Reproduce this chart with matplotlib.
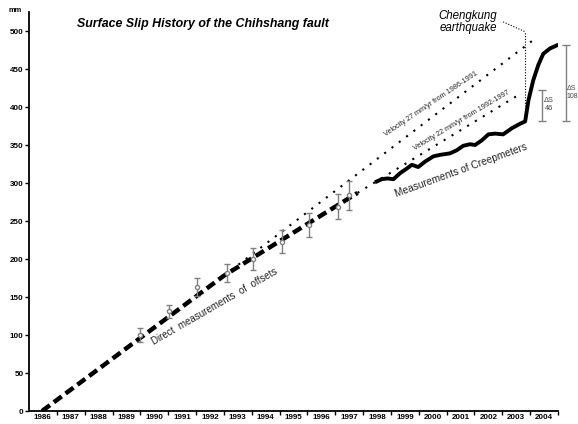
import matplotlib
matplotlib.use("Agg")
import matplotlib.pyplot as plt
import numpy as np

plt.rcParams["font.family"] = ["Liberation Sans", "DejaVu Sans"]

# -------------------------
# Data
# -------------------------
years = list(range(1986, 2005))

# direct measurements of offsets (dashed trend)
direct_years = [1986.47, 1993.0, 1997.8]
direct_mm = [0, 178, 287]

# offsets with error bars
offset_years = [1990.0, 1991.04, 1992.02, 1993.12, 1994.06, 1995.08, 1996.04, 1997.1, 1997.5]
offset_mm = [100, 131, 163, 182, 200, 223, 245, 269, 284]
offset_err = [9, 8, 12, 12, 14, 15, 16, 17, 19]

# velocity extrapolations
vel27_years = [1993.0, 2004.25]
vel27_mm = [178, 492]
vel22_years = [1997.8, 2003.5]
vel22_mm = [287, 414]

# creepmeters
creep_years = [1998.49, 1998.67, 1998.87, 1999.09, 1999.33, 1999.57, 1999.75,
               1999.98, 2000.22, 2000.52, 2000.76, 2001.12, 2001.36, 2001.6,
               2001.84, 2002.02, 2002.26, 2002.5, 2002.74, 2003.03, 2003.34,
               2003.64, 2003.82, 2003.94, 2004.11, 2004.29, 2004.47, 2004.71,
               2004.95]
creep_mm = [302, 305, 306, 305, 313, 319, 324, 321, 328, 335, 337, 339, 343,
            349, 351, 350, 356, 364, 365, 364, 372, 378, 381, 409, 435, 455,
            470, 477, 481]

# Chengkung earthquake marker
quake_year = 2003.82
quake_mm = [383, 499]
leader_years = [2003.03, 2003.82]
leader_mm = [512, 499]

# coseismic slip bars
ds46_mm = [382, 422]
ds108_mm = [382, 482]

fig = plt.figure(figsize=(5.78, 4.24), dpi=100)
ax = fig.add_axes([29 / 578, 1 - 411 / 424, 529 / 578, 399 / 424])

gray = "#808080"

# dotted extrapolations
ax.plot(vel27_years, vel27_mm, color="black", lw=1.5, linestyle=(0, (1, 3.4)))
ax.plot(vel22_years, vel22_mm, color="black", lw=1.5, linestyle=(0, (1, 3.4)))

# direct measurements
ax.plot(direct_years, direct_mm, color="black", lw=3.2, dashes=(2.2, 1.1),
        zorder=3)
ax.errorbar(offset_years, offset_mm, yerr=offset_err, fmt="o", ms=3,
            mfc="white", mec=gray, ecolor=gray, elinewidth=1, capsize=2.2,
            capthick=1, zorder=4)

# creepmeters
ax.plot(creep_years, creep_mm, color="black", lw=2.8, solid_joinstyle="round",
        zorder=3)

# Chengkung leader lines
ax.plot([quake_year, quake_year], quake_mm, color="black", lw=0.8,
        linestyle=(0, (1, 1.5)))
ax.plot(leader_years, leader_mm, color="black", lw=0.8, linestyle=(0, (1, 1.5)))
ax.text(2001.77, 512, "Chengkung\nearthquake", fontsize=8.3, style="italic",
        ha="center", va="center", linespacing=1.0)

# delta S bars
ax.errorbar([2004.43], [np.mean(ds46_mm)], yerr=[(ds46_mm[1] - ds46_mm[0]) / 2],
            fmt="none", ecolor=gray, elinewidth=1, capsize=3, capthick=1)
ax.errorbar([2005.29], [np.mean(ds108_mm)], yerr=[(ds108_mm[1] - ds108_mm[0]) / 2],
            fmt="none", ecolor=gray, elinewidth=1, capsize=3, capthick=1,
            clip_on=False)
ax.text(2004.66, 403, "\u0394S\n46", fontsize=5.3, color="#444444",
        ha="center", va="center", linespacing=1.1)
ax.text(2005.5, 419, "\u0394S\n108", fontsize=5.0, color="#444444",
        ha="center", va="center", linespacing=1.1, clip_on=False)

# labels along the lines
ax.text(1992.65, 138, "Direct  measurements  of  offsets", fontsize=7.0,
        rotation=30, ha="center", va="center", color="#222222")
ax.text(2001.52, 316, "Measurements of Creepmeters", fontsize=7.3,
        rotation=20, ha="center", va="center", color="#222222")
ax.text(2000.44, 404, "Velocity 27 mm/yr from 1986-1991", fontsize=5.2,
        rotation=34, ha="center", va="center", color="#222222")
ax.text(2001.55, 382, "Velocity 22 mm/yr from 1992-1997", fontsize=5.2,
        rotation=31, ha="center", va="center", color="#222222")

# -------------------------
# Axes
# -------------------------
ax.set_xlim(1986, 2005)
ax.set_ylim(0, 525)

ax.set_xticks(np.arange(1987, 2006))
ax.set_xticklabels([])
ax.set_xticks([y + 0.5 for y in years], minor=True)
ax.set_xticklabels([str(y) for y in years], minor=True, fontsize=5.8,
                   fontweight="bold")
ax.tick_params(axis="x", which="major", direction="out", length=3, width=1)
ax.tick_params(axis="x", which="minor", length=0, pad=2)

ax.set_yticks(np.arange(0, 501, 50))
ax.set_yticklabels([str(v) for v in range(0, 501, 50)], fontsize=5.8,
                   fontweight="bold")
ax.tick_params(axis="y", direction="out", length=3, width=1, pad=1)

ax.spines["top"].set_visible(False)
ax.spines["right"].set_visible(False)
ax.spines["left"].set_linewidth(1.3)
ax.spines["bottom"].set_linewidth(1.3)

fig.text(15 / 578, 1 - 10 / 424, "mm", fontsize=5.3, fontweight="bold",
         ha="center", va="center")
fig.text(77 / 578, 1 - 24 / 424, "Surface Slip History of the Chihshang fault",
         fontsize=8.9, fontweight="bold", style="italic", ha="left",
         va="center")

fig.savefig("out.png", dpi=100)
